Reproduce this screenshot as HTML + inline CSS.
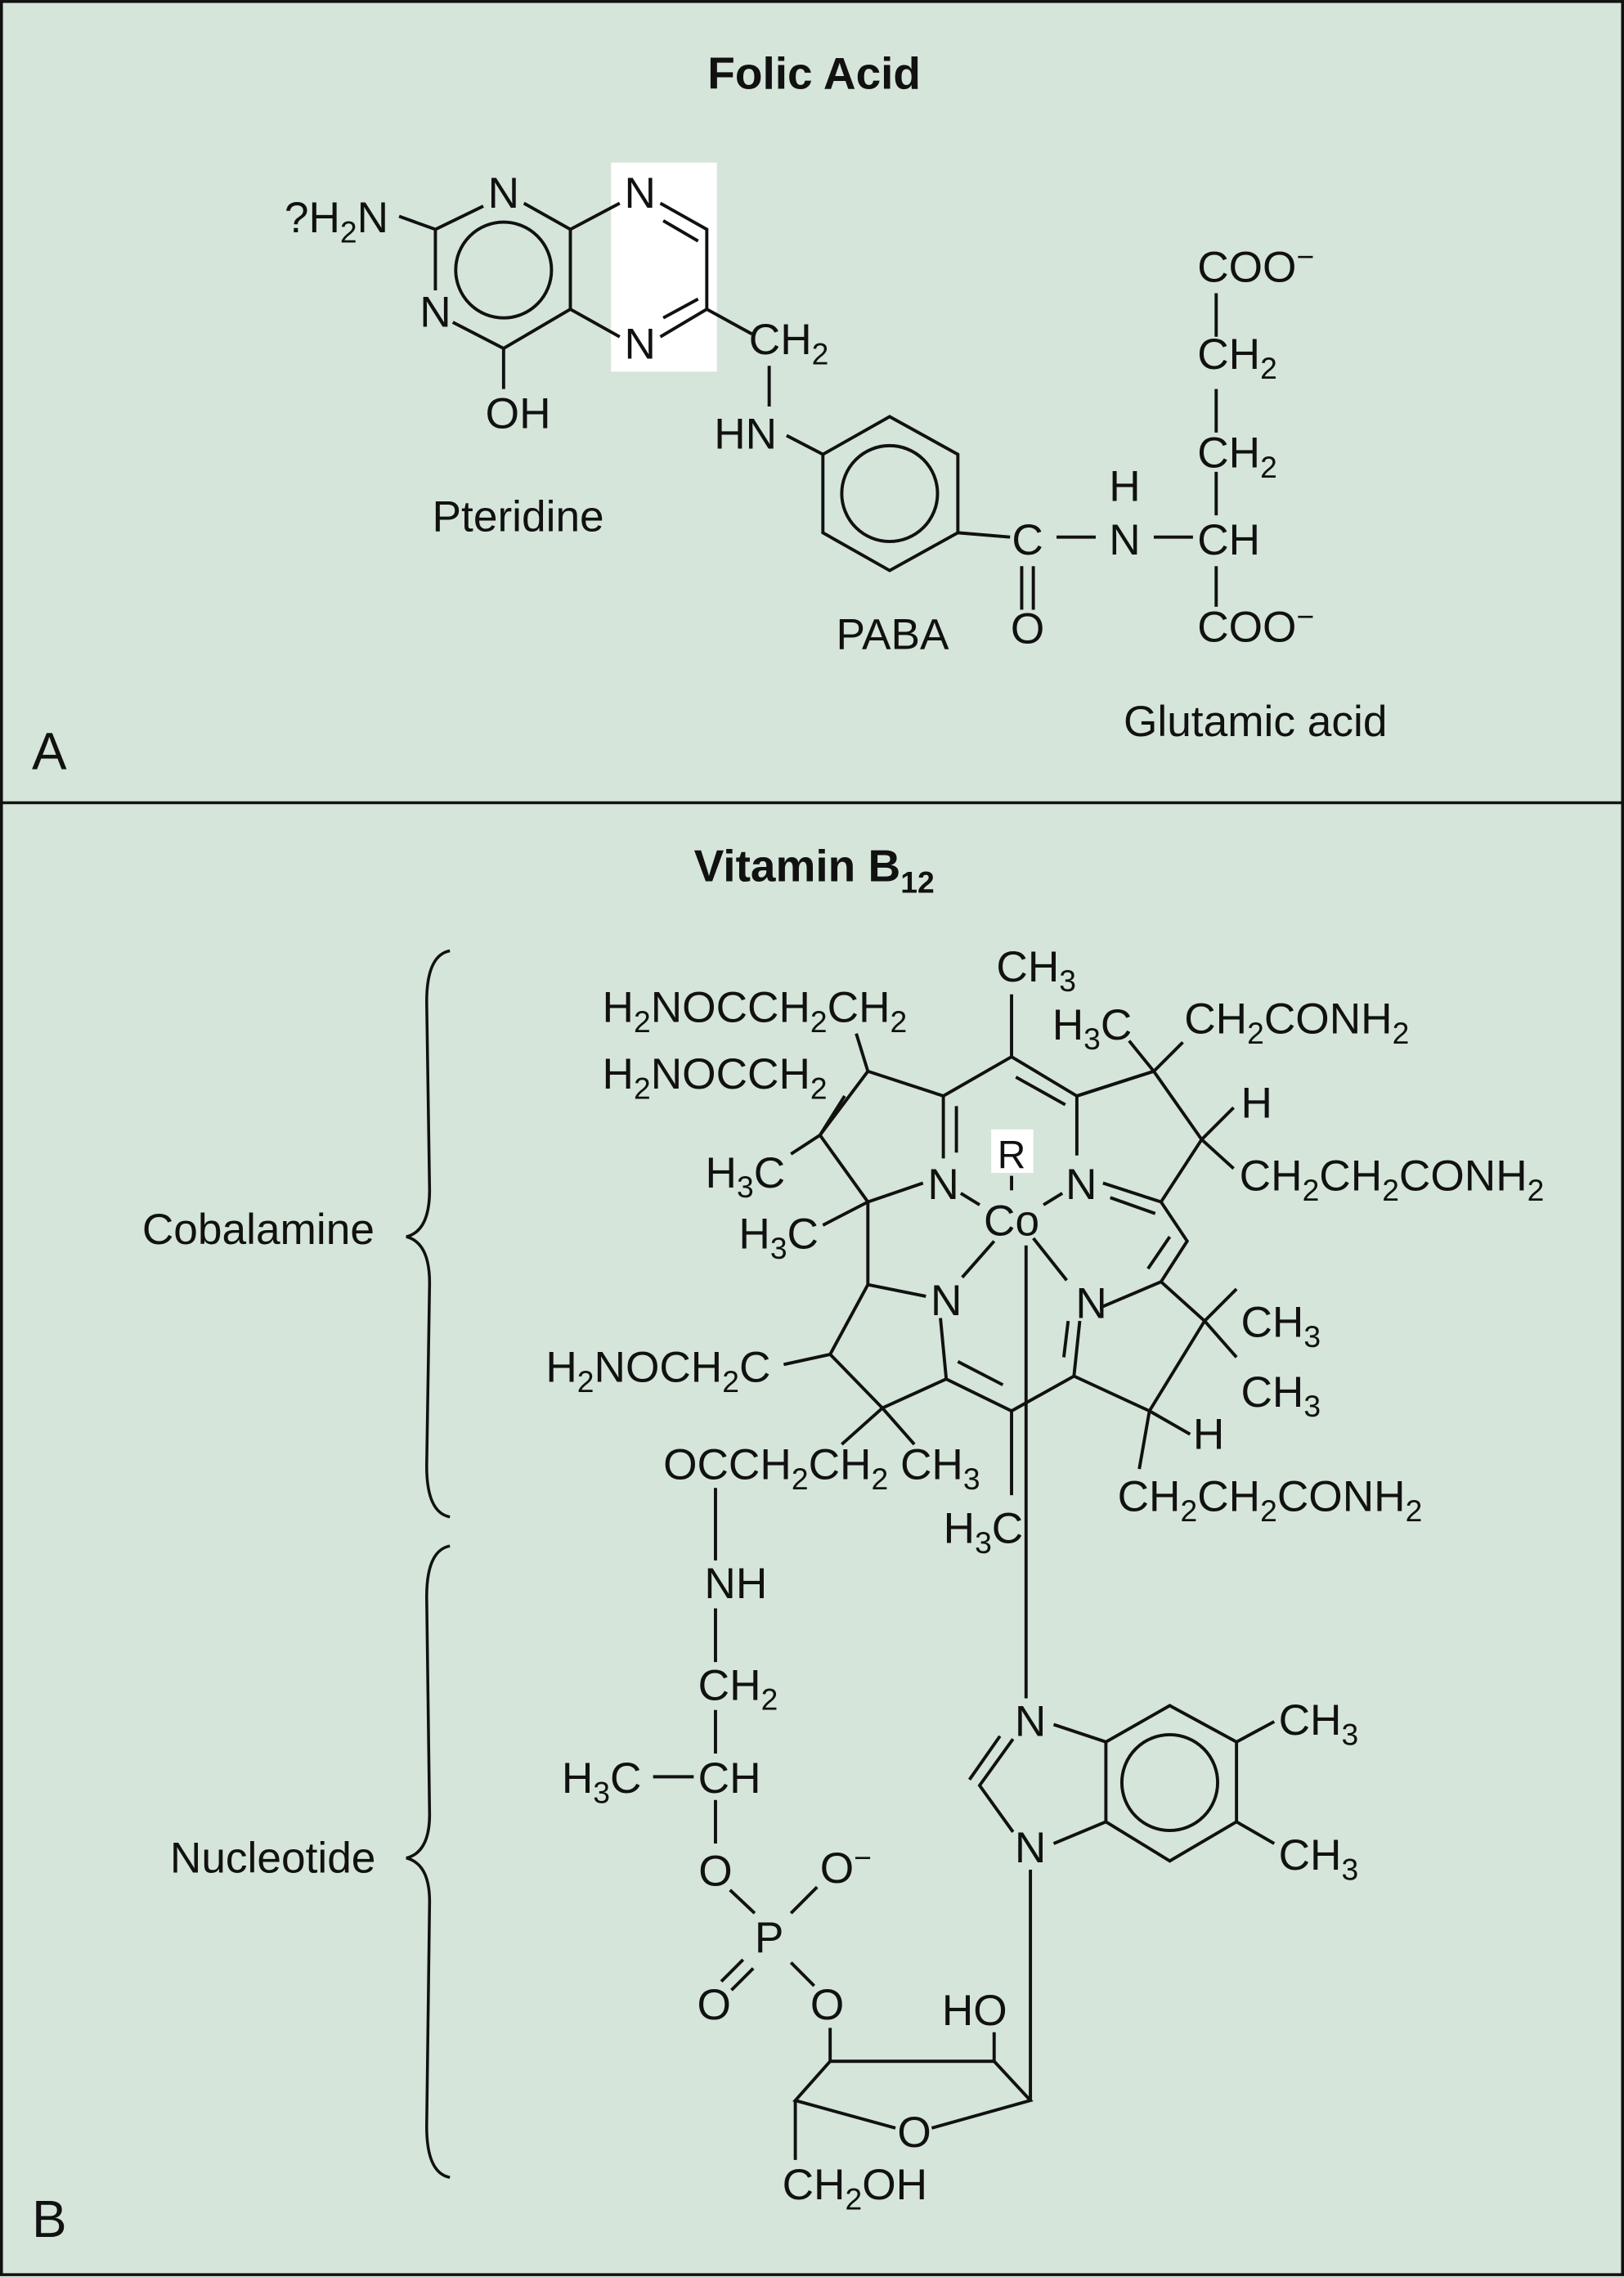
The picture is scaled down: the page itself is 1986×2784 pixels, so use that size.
<!DOCTYPE html>
<html><head><style>
html,body{margin:0;padding:0;background:#d5e5d9}
svg{display:block}
text{font-family:"Liberation Sans",Arial,sans-serif;fill:#111}
</style></head><body>
<svg width="1986" height="2784" viewBox="0 0 1119 1568.6" xmlns="http://www.w3.org/2000/svg">
<rect x="0" y="0" width="1119" height="1568.6" fill="#d5e5d9"/>
<rect x="1" y="1" width="1117" height="1566" fill="none" stroke="#111" stroke-width="2"/>
<line x1="0" y1="553" x2="1119" y2="553" stroke="#111" stroke-width="2"/>
<g font-size="31">
<text x="561" y="61" text-anchor="middle" font-weight="bold">Folic Acid</text>
<text x="22" y="530" font-size="36">A</text>
<text x="22" y="1541" font-size="36">B</text>
<text x="561" y="607" text-anchor="middle" font-weight="bold">Vitamin B<tspan font-size="21" dy="8">12</tspan></text>
</g>
<rect x="421" y="112" width="73" height="144" fill="#fff"/>
<g stroke="#111" stroke-width="2.2" fill="none">
<polyline points="333,142 300,158 300,200"/>
<polyline points="312,222 347,240 393,213 393,158 361,140"/>
<circle cx="347" cy="186" r="33"/>
<line x1="393" y1="158" x2="427" y2="140"/>
<line x1="393" y1="213" x2="427" y2="232"/>
<polyline points="455,140 487,158 487,213 455,232"/>
<line x1="457" y1="152" x2="481" y2="166"/>
<line x1="457" y1="219" x2="481" y2="206"/>
<line x1="347" y1="240" x2="347" y2="268"/>
<line x1="275" y1="149" x2="300" y2="158"/>
<line x1="487" y1="213" x2="518" y2="230"/>
<line x1="530" y1="252" x2="530" y2="280"/>
<line x1="542" y1="300" x2="567" y2="313"/>
<polygon points="567,313 613,287 660,313 660,367 613,393 567,367"/>
<circle cx="613" cy="340" r="33"/>
<line x1="660" y1="367" x2="696" y2="370"/>
<line x1="704" y1="390" x2="704" y2="420"/><line x1="712" y1="390" x2="712" y2="420"/>
<line x1="728" y1="370" x2="755" y2="370"/>
<line x1="795" y1="370" x2="822" y2="370"/>
<line x1="838" y1="355" x2="838" y2="325"/>
<line x1="838" y1="298" x2="838" y2="268"/>
<line x1="838" y1="232" x2="838" y2="202"/>
<line x1="838" y1="390" x2="838" y2="418"/>
</g>
<g font-size="30">
<text x="196" y="160">?H<tspan font-size="21" dy="7">2</tspan><tspan dy="-7">N</tspan></text>
<text x="347" y="143" text-anchor="middle">N</text>
<text x="300" y="225" text-anchor="middle">N</text>
<text x="441" y="143" text-anchor="middle">N</text>
<text x="441" y="247" text-anchor="middle">N</text>
<text x="357" y="295" text-anchor="middle">OH</text>
<text x="516" y="244">CH<tspan font-size="21" dy="7">2</tspan></text>
<text x="492" y="309">HN</text>
<text x="708" y="382" text-anchor="middle">C</text>
<text x="708" y="443" text-anchor="middle">O</text>
<text x="775" y="382" text-anchor="middle">N</text>
<text x="775" y="345" text-anchor="middle">H</text>
<text x="825" y="382">CH</text>
<text x="825" y="322">CH<tspan font-size="21" dy="7">2</tspan></text>
<text x="825" y="254">CH<tspan font-size="21" dy="7">2</tspan></text>
<text x="825" y="194">COO<tspan font-size="21" dy="-10">−</tspan></text>
<text x="825" y="442">COO<tspan font-size="21" dy="-10">−</tspan></text>
<text x="357" y="366" text-anchor="middle">Pteridine</text>
<text x="615" y="447" text-anchor="middle">PABA</text>
<text x="865" y="507" text-anchor="middle">Glutamic acid</text>
<text x="178" y="857" text-anchor="middle">Cobalamine</text>
<text x="188" y="1290" text-anchor="middle">Nucleotide</text>
</g>
<g stroke="#111" stroke-width="2" fill="none">
<path d="M310,655 Q294,658 294,690 L296,820 Q296,848 280,852 Q296,856 296,884 L294,1010 Q294,1042 310,1045"/>
<path d="M310,1065 Q294,1068 294,1100 L296,1250 Q296,1276 280,1280 Q296,1284 296,1310 L294,1465 Q294,1497 310,1500"/>
</g>
<rect x="683" y="778" width="29" height="30" fill="#fff"/>
<g stroke="#111" stroke-width="2.2" fill="none">
<line x1="697" y1="685" x2="697" y2="728"/>
<polyline points="598,738 650,755 697,728 742,755 795,738"/>
<line x1="700" y1="742" x2="734" y2="761"/>
<line x1="650" y1="755" x2="650" y2="798"/><line x1="659" y1="762" x2="659" y2="794"/>
<line x1="742" y1="755" x2="742" y2="796"/>
<polyline points="590,712 598,738 565,782 598,828 636,815"/>
<line x1="565" y1="782" x2="582" y2="755"/>
<line x1="565" y1="782" x2="545" y2="795"/>
<line x1="598" y1="828" x2="567" y2="844"/>
<line x1="598" y1="828" x2="598" y2="885"/>
<polyline points="638,893 598,885 572,933 608,970 652,950 648,908"/>
<line x1="572" y1="933" x2="540" y2="940"/>
<line x1="608" y1="970" x2="580" y2="995"/>
<line x1="608" y1="970" x2="630" y2="995"/>
<polyline points="652,950 697,972 740,948 744,910"/>
<line x1="660" y1="938" x2="691" y2="954"/>
<line x1="733" y1="935" x2="736" y2="910"/>
<line x1="740" y1="948" x2="792" y2="972" />
<polyline points="760,900 800,883 830,910 792,972"/>
<line x1="792" y1="972" x2="785" y2="1012"/>
<line x1="792" y1="972" x2="820" y2="988"/>
<line x1="830" y1="910" x2="852" y2="888"/>
<line x1="830" y1="910" x2="852" y2="935"/>
<polyline points="800,883 818,855 800,828 760,815"/>
<line x1="791" y1="874" x2="806" y2="852"/>
<line x1="765" y1="825" x2="796" y2="836"/>
<polyline points="742,755 795,738 828,785 800,828"/>
<line x1="795" y1="738" x2="778" y2="717"/>
<line x1="795" y1="738" x2="815" y2="718"/>
<line x1="828" y1="785" x2="850" y2="763"/>
<line x1="828" y1="785" x2="850" y2="805"/>
<line x1="662" y1="822" x2="675" y2="830"/>
<line x1="732" y1="822" x2="719" y2="830"/>
<line x1="697" y1="810" x2="697" y2="820"/>
<line x1="685" y1="855" x2="663" y2="880"/>
<line x1="712" y1="853" x2="735" y2="882"/>
<line x1="707" y1="858" x2="707" y2="1170"/>
<line x1="697" y1="972" x2="697" y2="1030"/>
<line x1="493" y1="1025" x2="493" y2="1075"/>
<line x1="493" y1="1108" x2="493" y2="1145"/>
<line x1="493" y1="1178" x2="493" y2="1208"/>
<line x1="450" y1="1224" x2="478" y2="1224"/>
<line x1="493" y1="1240" x2="493" y2="1270"/>
<line x1="503" y1="1302" x2="520" y2="1318"/>
<line x1="545" y1="1318" x2="563" y2="1300"/>
<line x1="512" y1="1350" x2="497" y2="1365"/><line x1="519" y1="1356" x2="504" y2="1371"/>
<line x1="545" y1="1352" x2="561" y2="1368"/>
<line x1="572" y1="1397" x2="572" y2="1420"/>
<polyline points="572,1420 685,1420 710,1447 642,1466"/>
<polyline points="617,1466 548,1447 572,1420"/>
<line x1="685" y1="1400" x2="685" y2="1420"/>
<line x1="548" y1="1447" x2="548" y2="1488"/>
<line x1="710" y1="1447" x2="710" y2="1288"/>
<polyline points="698,1198 675,1230 698,1262"/>
<line x1="689" y1="1196" x2="668" y2="1226"/>
<line x1="726" y1="1188" x2="762" y2="1200"/>
<line x1="726" y1="1270" x2="762" y2="1255"/>
<polygon points="762,1200 806,1175 852,1200 852,1255 806,1282 762,1255"/>
<circle cx="806" cy="1228" r="33"/>
<line x1="852" y1="1200" x2="878" y2="1186"/>
<line x1="852" y1="1255" x2="878" y2="1270"/>
</g>
<g font-size="30">
<text x="714" y="676" text-anchor="middle">CH<tspan font-size="21" dy="7">3</tspan></text>
<text x="415" y="704">H<tspan font-size="21" dy="7">2</tspan><tspan dy="-7">NOCCH</tspan><tspan font-size="21" dy="7">2</tspan><tspan dy="-7">CH</tspan><tspan font-size="21" dy="7">2</tspan></text>
<text x="415" y="750">H<tspan font-size="21" dy="7">2</tspan><tspan dy="-7">NOCCH</tspan><tspan font-size="21" dy="7">2</tspan></text>
<text x="486" y="818">H<tspan font-size="21" dy="7">3</tspan><tspan dy="-7">C</tspan></text>
<text x="509" y="860">H<tspan font-size="21" dy="7">3</tspan><tspan dy="-7">C</tspan></text>
<text x="725" y="716">H<tspan font-size="21" dy="7">3</tspan><tspan dy="-7">C</tspan></text>
<text x="816" y="712">CH<tspan font-size="21" dy="7">2</tspan><tspan dy="-7">CONH</tspan><tspan font-size="21" dy="7">2</tspan></text>
<text x="855" y="770">H</text>
<text x="854" y="820">CH<tspan font-size="21" dy="7">2</tspan><tspan dy="-7">CH</tspan><tspan font-size="21" dy="7">2</tspan><tspan dy="-7">CONH</tspan><tspan font-size="21" dy="7">2</tspan></text>
<text x="650" y="826" text-anchor="middle">N</text>
<text x="745" y="826" text-anchor="middle">N</text>
<text x="697" y="805" text-anchor="middle" font-size="27">R</text>
<text x="697" y="851" text-anchor="middle">Co</text>
<text x="652" y="906" text-anchor="middle">N</text>
<text x="752" y="908" text-anchor="middle">N</text>
<text x="376" y="952">H<tspan font-size="21" dy="7">2</tspan><tspan dy="-7">NOCH</tspan><tspan font-size="21" dy="7">2</tspan><tspan dy="-7">C</tspan></text>
<text x="855" y="921">CH<tspan font-size="21" dy="7">3</tspan></text>
<text x="855" y="969">CH<tspan font-size="21" dy="7">3</tspan></text>
<text x="822" y="998">H</text>
<text x="770" y="1041">CH<tspan font-size="21" dy="7">2</tspan><tspan dy="-7">CH</tspan><tspan font-size="21" dy="7">2</tspan><tspan dy="-7">CONH</tspan><tspan font-size="21" dy="7">2</tspan></text>
<text x="457" y="1019">OCCH<tspan font-size="21" dy="7">2</tspan><tspan dy="-7">CH</tspan><tspan font-size="21" dy="7">2</tspan><tspan dy="-7"> CH</tspan><tspan font-size="21" dy="7">3</tspan></text>
<text x="650" y="1063">H<tspan font-size="21" dy="7">3</tspan><tspan dy="-7">C</tspan></text>
<text x="507" y="1101" text-anchor="middle">NH</text>
<text x="481" y="1171">CH<tspan font-size="21" dy="7">2</tspan></text>
<text x="387" y="1235">H<tspan font-size="21" dy="7">3</tspan><tspan dy="-7">C</tspan></text>
<text x="481" y="1235">CH</text>
<text x="493" y="1299" text-anchor="middle">O</text>
<text x="530" y="1345" text-anchor="middle">P</text>
<text x="565" y="1297">O<tspan font-size="21" dy="-10">−</tspan></text>
<text x="492" y="1391" text-anchor="middle">O</text>
<text x="570" y="1391" text-anchor="middle">O</text>
<text x="649" y="1395">HO</text>
<text x="630" y="1479" text-anchor="middle">O</text>
<text x="539" y="1515">CH<tspan font-size="21" dy="7">2</tspan><tspan dy="-7">OH</tspan></text>
<text x="710" y="1196" text-anchor="middle">N</text>
<text x="710" y="1283" text-anchor="middle">N</text>
<text x="881" y="1195">CH<tspan font-size="21" dy="7">3</tspan></text>
<text x="881" y="1288">CH<tspan font-size="21" dy="7">3</tspan></text>
</g>
</svg>
</body></html>
